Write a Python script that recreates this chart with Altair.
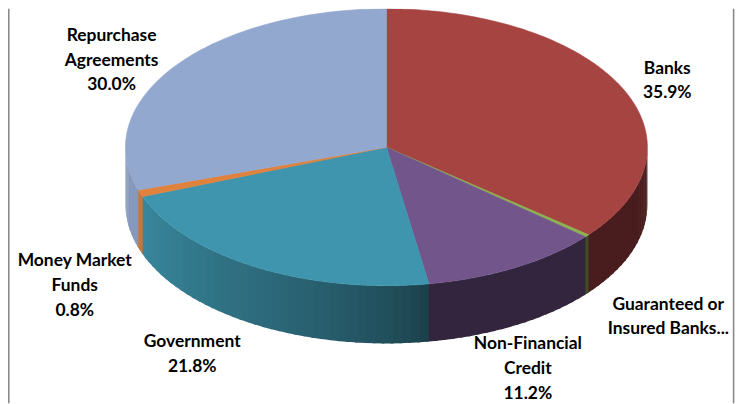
import math
import altair as alt

# ---- data ----
categories = ["Banks", "Guaranteed or Insured Banks...", "Non-Financial Credit",
              "Government", "Money Market Funds", "Repurchase Agreements"]
shares = [35.9, 0.3, 11.2, 21.8, 0.8, 30.0]
label_texts = ["Banks\n35.9%", "Guaranteed or\nInsured Banks...",
               "Non-Financial\nCredit\n11.2%", "Government\n21.8%",
               "Money Market\nFunds\n0.8%", "Repurchase\nAgreements\n30.0%"]

# ---- styling / layout ----
top_colors = ["#A64442", "#8DB34F", "#72568B", "#3F95AD", "#E0823C", "#93A8CF"]
W, H = 730, 396
CX, CY, RX, RY, DEPTH = 380, 139, 262, 139, 58
# label anchors (centre of first line) in plot pixels
label_pos = [(662, 60), (663, 297), (522, 337), (185, 335), (67, 253), (104, 27)]


def rim(t_deg, dy=0.0):
    t = math.radians(t_deg)
    return [CX + RX * math.sin(t), CY - RY * math.cos(t) + dy]


def brightness(t):
    s = min(1.0, max(0.0, (t - 172) / 78.0)) ** 0.7
    return 0.44 + 0.47 * s


def shade(hexcol, b):
    r, g, bl = (int(hexcol[i:i + 2], 16) for i in (1, 3, 5))
    return "#%02x%02x%02x" % (int(r * b), int(g * b), int(bl * b))


total = sum(shares)
bounds = []
acc = 0.0
for s in shares:
    a0 = acc / total * 360
    acc += s
    bounds.append((a0, acc / total * 360))

tops, sides = [], []
for name, col, (a0, a1) in zip(categories, top_colors, bounds):
    n = max(2, int(math.ceil((a1 - a0) / 1.0)))
    ring = [[CX, CY]] + [rim(a0 + (a1 - a0) * k / n) for k in range(n + 1)] + [[CX, CY]]
    tops.append({"type": "Feature", "properties": {"name": name},
                 "geometry": {"type": "Polygon", "coordinates": [ring]}})
    s0, s1 = max(a0, 90.0), min(a1, 270.0)
    if s1 > s0:
        m = max(1, int(math.ceil((s1 - s0) / 2.0)))
        for k in range(m):
            t0 = s0 + (s1 - s0) * k / m
            t1 = s0 + (s1 - s0) * (k + 1) / m
            # small overlap into the next strip hides anti-aliasing seams
            t1x = min(t1 + 0.6, 270.0) if k < m - 1 or a1 < 270 else t1
            quad = [rim(t0), rim(t1x), rim(t1x, DEPTH), rim(t0, DEPTH), rim(t0)]
            sides.append({"type": "Feature",
                          "properties": {"name": name,
                                         "fill": shade(col, brightness((t0 + t1) / 2))},
                          "geometry": {"type": "Polygon", "coordinates": [quad]}})

labels = [{"label": t, "lx": p[0], "ly": p[1]} for t, p in zip(label_texts, label_pos)]

side_layer = alt.Chart(alt.Data(values=sides)).mark_geoshape(strokeWidth=0).encode(
    fill=alt.Fill("properties.fill:N", scale=None),
).project(type="identity", scale=1, translate=[0, 0])

top_layer = alt.Chart(alt.Data(values=tops)).mark_geoshape(strokeWidth=0.6).encode(
    fill=alt.Fill("properties.name:N",
                  scale=alt.Scale(domain=categories, range=top_colors), legend=None),
    stroke=alt.Stroke("properties.name:N",
                      scale=alt.Scale(domain=categories, range=top_colors), legend=None),
).project(type="identity", scale=1, translate=[0, 0])

text_layer = alt.Chart(alt.Data(values=labels)).mark_text(
    font="Lato", fontWeight="bold", fontSize=17.5, lineBreak="\n", lineHeight=25,
    align="center", baseline="middle", color="#000000",
).encode(
    longitude="lx:Q", latitude="ly:Q", text="label:N",
).project(type="identity", scale=1, translate=[0, 0])

left_border = alt.Chart(alt.Data(values=[{}])).mark_rule(
    color="#8a8a8a", strokeWidth=1.6
).encode(x=alt.value(0.8), y=alt.value(0), y2=alt.value(H))

right_border = alt.Chart(alt.Data(values=[{}])).mark_rule(
    color="#8a8a8a", strokeWidth=1.6
).encode(x=alt.value(728.6), y=alt.value(0), y2=alt.value(H))

chart = alt.layer(side_layer, top_layer, text_layer, left_border, right_border).properties(
    width=W, height=H, padding=0, autosize=alt.AutoSizeParams(type="none"),
    background="white",
).configure_view(stroke=None)

chart.save("out.html", embed_options={"renderer": "svg", "actions": False})
